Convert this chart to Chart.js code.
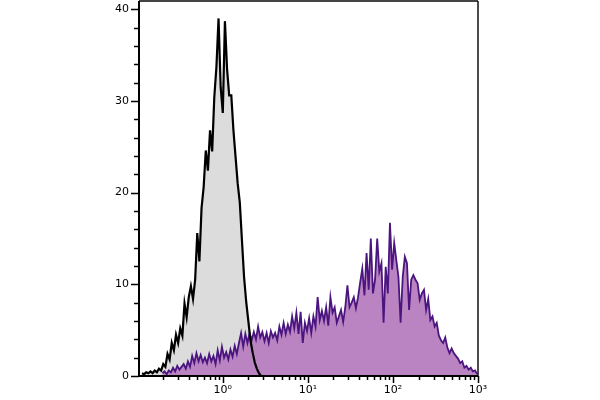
<!DOCTYPE html>
<html>
<head>
<meta charset="utf-8">
<script src="https://cdn.jsdelivr.net/npm/chart.js@4.4.0/dist/chart.umd.min.js"></script>
<style>
  html, body { margin: 0; padding: 0; background: #fff; }
  #wrap { width: 600px; height: 400px; }
</style>
</head>
<body>
<div id="wrap"><canvas id="hist"></canvas></div>
<script>
// histogram channels: 40 bins per decade on the log axis
const binsPerDecade = 40;
const grayStartLog = -0.95;
const purpleStartLog = -0.71;

// isotype control (gray)
const grayCounts = [
  0.3, 0.2, 0.4, 0.3, 0.5, 0.3, 0.6, 0.4, 0.8, 0.6,
  1.3, 1.0, 2.4, 1.8, 3.6, 2.8, 4.5, 3.6, 5.2, 4.4,
  7.9, 6.4, 8.6, 9.8, 8.4, 10.5, 15.6, 12.5, 18.3, 20.6,
  24.6, 22.4, 26.8, 24.5, 30.4, 33.7, 39.0, 31.5, 28.7, 38.7,
  33.5, 30.6, 30.6, 26.8, 23.9, 21.0, 18.9, 14.8, 10.8, 8.1,
  6.0, 3.9, 2.6, 1.5, 0.8, 0.3, 0
];

// stained sample (purple)
const purpleCounts = [
  0.3, 0.5, 0.2, 0.6, 0.4, 0.9, 0.5, 1.1, 0.7, 1.0,
  1.3, 0.8, 1.6, 1.0, 2.2, 1.4, 2.5, 1.6, 2.3, 1.5,
  2.0, 1.4, 2.4, 1.6, 2.2, 1.3, 2.8, 1.7, 3.2, 2.0,
  2.6, 1.8, 2.9, 2.1, 3.3, 2.4, 3.6, 4.7, 3.2, 4.6,
  3.6, 4.7, 3.9, 4.8, 4.0, 5.4, 4.2, 4.8, 3.8, 4.7,
  3.6, 4.9, 4.2, 4.7, 3.9, 5.4, 4.5, 5.8, 4.6, 5.6,
  4.8, 6.5, 5.2, 6.9, 4.6, 7.0, 3.6, 5.8, 4.9, 6.3,
  4.7, 6.5, 5.4, 8.6, 6.1, 7.1, 6.0, 7.5, 5.5, 8.6,
  6.9, 7.5, 5.8, 6.5, 7.2, 5.9, 7.5, 9.9, 7.5, 8.0,
  8.6, 7.4, 8.6, 10.2, 11.7, 8.8, 13.4, 9.4, 15.0, 9.0,
  10.5, 15.0, 11.4, 12.3, 5.8, 11.9, 9.0, 16.7, 11.6, 14.5,
  12.6, 10.8, 5.8, 10.8, 13.0, 12.3, 7.2, 10.5, 11.0, 10.5,
  10.1, 8.3, 9.0, 9.4, 7.2, 8.4, 6.1, 6.5, 5.4, 5.8,
  4.4, 3.9, 3.6, 4.2, 3.1, 2.5, 3.0, 2.5, 2.2, 1.9,
  1.4, 1.6, 0.9, 1.1, 0.7, 0.9, 0.5, 0.6, 0.2
];

const xMajorTicks = [1, 10, 100, 1000];
const xTickLabels = ['10\u2070', '10\u00b9', '10\u00b2', '10\u00b3'];
const yTickValues = [0, 10, 20, 30, 40];

function toPoints(counts, startLog){
  return counts.map((c, i) => ({ x: Math.pow(10, startLog + i / binsPerDecade), y: c }));
}

const grayPts = toPoints(grayCounts, grayStartLog);
const purplePts = toPoints(purpleCounts, purpleStartLog);

// ticks + frame drawn by hand (major/minor lengths differ)
const frame = {
  id: 'frame',
  afterDraw(chart){
    const ctx = chart.ctx, a = chart.chartArea;
    const xs = chart.scales.x, ys = chart.scales.y;
    ctx.save();
    ctx.strokeStyle = '#000';
    ctx.lineWidth = 1.5;
    ctx.beginPath();
    for (let v = 0; v <= 40; v += 2) {
      const y = Math.round(ys.getPixelForValue(v)) + 0.5;
      const len = v % 10 === 0 ? 8 : 5;
      ctx.moveTo(a.left - len, y);
      ctx.lineTo(a.left, y);
    }
    for (let d = -1; d <= 2; d++) {
      for (let k = 1; k <= 9; k++) {
        const v = k * Math.pow(10, d);
        if (v < xs.min) continue;
        const x = Math.round(xs.getPixelForValue(v)) + 0.5;
        const len = k === 1 ? 7 : 4;
        ctx.moveTo(x, a.bottom);
        ctx.lineTo(x, a.bottom + len);
      }
    }
    const xe = Math.round(xs.getPixelForValue(1000)) + 0.5;
    ctx.moveTo(xe, a.bottom);
    ctx.lineTo(xe, a.bottom + 7);
    ctx.stroke();

    // top and right border
    ctx.strokeStyle = '#444';
    ctx.lineWidth = 2;
    ctx.beginPath();
    ctx.moveTo(a.left, a.top);
    ctx.lineTo(a.right, a.top);
    ctx.stroke();
    ctx.strokeStyle = '#111';
    ctx.lineWidth = 1.5;
    ctx.beginPath();
    ctx.moveTo(a.right, a.top);
    ctx.lineTo(a.right, a.bottom);
    ctx.stroke();
    // left and bottom axis
    ctx.strokeStyle = '#000';
    ctx.lineWidth = 2;
    ctx.beginPath();
    ctx.moveTo(a.left, a.top);
    ctx.lineTo(a.left, a.bottom);
    ctx.lineTo(a.right, a.bottom);
    ctx.stroke();
    ctx.restore();
  }
};

Chart.defaults.font.family = '"DejaVu Sans", sans-serif';
Chart.defaults.font.size = 11;
Chart.defaults.color = '#000';

const config = {
  type: 'line',
  data: {
    datasets: [
      { // gray outline, on top
        data: grayPts,
        borderColor: '#000',
        borderWidth: 2.2,
        fill: false,
        pointRadius: 0
      },
      { // stained sample
        data: purplePts,
        borderColor: '#4b1580',
        backgroundColor: '#b984c1',
        borderWidth: 1.8,
        fill: 'origin',
        pointRadius: 0
      },
      { // gray fill only
        data: grayPts,
        borderWidth: 0,
        borderColor: 'rgba(0,0,0,0)',
        backgroundColor: '#dcdcdc',
        fill: 'origin',
        pointRadius: 0
      }
    ]
  },
  options: {
    responsive: false,
    animation: false,
    layout: { padding: { left: 0, right: 122, top: 1, bottom: 0 } },
    plugins: {
      legend: { display: false },
      tooltip: { enabled: false },
      filler: { drawTime: 'beforeDatasetsDraw' }
    },
    elements: { line: { tension: 0 } },
    scales: {
      x: {
        type: 'logarithmic',
        min: 0.1035,
        max: 1000,
        border: { display: false },
        grid: { display: false, drawTicks: false },
        afterBuildTicks: s => { s.ticks = xMajorTicks.map(v => ({ value: v })); },
        afterFit: s => { s.height = 24; s.paddingLeft = 0; s.paddingRight = 0; },
        ticks: {
          padding: 8,
          maxRotation: 0,
          autoSkip: false,
          callback: (v) => xTickLabels[xMajorTicks.indexOf(v)]
        }
      },
      y: {
        min: 0,
        max: 40.9,
        border: { display: false },
        grid: { display: false, drawTicks: false },
        afterBuildTicks: s => { s.ticks = yTickValues.map(v => ({ value: v })); },
        afterFit: s => { s.width = 139; s.paddingTop = 0; s.paddingBottom = 0; },
        ticks: { padding: 10 }
      }
    }
  },
  plugins: [frame]
};

const canvas = document.getElementById('hist');
canvas.width = 600;
canvas.height = 400;
new Chart(canvas, config);
</script>
</body>
</html>
